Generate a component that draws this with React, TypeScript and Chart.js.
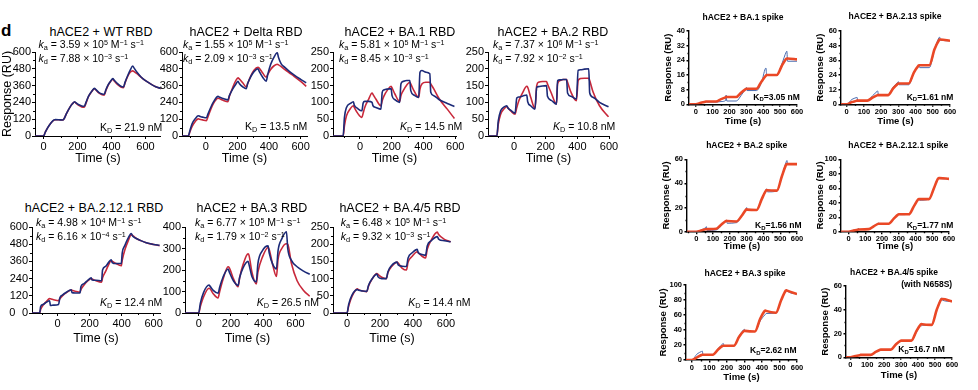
import React, { useEffect, useRef } from 'react';
import { Chart, registerables } from 'chart.js';

Chart.register(...registerables);

// ---------------- DATA (RBD panels) ----------------
const wtTime = [-50, 0, 10, 25, 45, 62, 70, 90, 112, 122, 135, 155, 170, 183, 190, 205, 225, 240, 250, 265, 285, 300, 307, 325, 345, 357, 367, 380, 395, 408, 415, 435, 455, 470, 480, 495, 510, 525, 533, 550, 575, 600, 630, 660, 690];
const wtBlue = [0, 0, 25, 60, 95, 115, 117, 116, 114, 125, 160, 205, 230, 245, 238, 225, 215, 213, 240, 285, 322, 340, 333, 312, 300, 298, 330, 365, 392, 410, 400, 375, 355, 350, 385, 430, 470, 500, 485, 455, 420, 395, 372, 352, 340];
const wtRed = [0, 0, 25, 60, 95, 113, 116, 116, 114, 125, 160, 205, 230, 243, 235, 220, 208, 205, 235, 282, 320, 338, 330, 308, 295, 292, 325, 362, 390, 405, 395, 368, 350, 345, 380, 425, 455, 465, 460, 445, 418, 395, 372, 352, 338];

const deltaTime = [-150, -110, -100, -85, -65, -48, -40, -20, 4, 15, 30, 50, 78, 85, 110, 140, 150, 170, 190, 204, 212, 235, 256, 265, 285, 305, 330, 338, 360, 382, 392, 410, 430, 452, 460, 477, 500, 530, 560, 600, 635];
const deltaBlue = [0, 0, 40, 90, 125, 145, 142, 135, 130, 160, 200, 245, 283, 278, 268, 258, 290, 335, 370, 390, 375, 350, 338, 375, 425, 460, 480, 462, 420, 392, 440, 510, 560, 595, 560, 515, 490, 460, 435, 405, 380];
const deltaRed = [0, 0, 30, 70, 105, 122, 120, 115, 110, 140, 185, 235, 270, 268, 255, 245, 285, 345, 395, 415, 408, 378, 350, 375, 430, 470, 490, 485, 450, 420, 440, 475, 500, 512, 508, 495, 475, 450, 425, 390, 355];

const ba1Time = [-170, -106, -98, -85, -60, -42, -36, -15, 12, 20, 30, 55, 76, 82, 100, 132, 140, 150, 175, 196, 202, 220, 250, 258, 270, 295, 314, 320, 340, 370, 378, 390, 415, 440, 446, 465, 500, 550, 595];
const ba1Blue = [0, 0, 55, 85, 97, 102, 92, 82, 75, 98, 103, 103, 100, 90, 85, 80, 130, 137, 140, 141, 120, 108, 100, 155, 162, 165, 165, 135, 122, 115, 190, 195, 190, 185, 130, 120, 108, 97, 88];
const ba1Red = [0, 0, 30, 60, 82, 90, 85, 68, 55, 68, 85, 110, 128, 124, 110, 90, 105, 118, 138, 148, 143, 125, 103, 120, 133, 152, 160, 155, 135, 115, 140, 155, 160, 160, 155, 140, 110, 80, 52];

const ba2Time = [-165, -109, -100, -85, -65, -46, -40, -20, 6, 17, 30, 55, 80, 86, 105, 132, 143, 155, 180, 205, 211, 235, 268, 275, 290, 310, 332, 338, 360, 394, 405, 420, 445, 472, 478, 500, 540, 597];
const ba2Blue = [0, 0, 45, 75, 86, 90, 84, 76, 68, 113, 116, 119, 122, 102, 90, 80, 145, 147, 149, 150, 118, 106, 95, 165, 167, 168, 168, 128, 118, 110, 195, 197, 199, 200, 128, 115, 100, 87];
const ba2Red = [0, 0, 35, 65, 80, 88, 84, 74, 65, 85, 105, 130, 148, 145, 115, 82, 150, 160, 162, 162, 155, 128, 95, 155, 165, 168, 168, 160, 130, 105, 165, 171, 172, 172, 165, 130, 90, 57];

const ba2121Time = [-160, -112, -106, -90, -70, -50, -45, -25, 6, 14, 30, 55, 85, 90, 110, 140, 146, 165, 190, 210, 216, 240, 275, 281, 300, 320, 335, 341, 365, 398, 404, 420, 440, 460, 470, 492, 520, 554, 600, 637];
const ba2121Blue = [0, 0, 45, 60, 75, 85, 52, 55, 60, 105, 125, 145, 162, 142, 140, 140, 185, 205, 230, 245, 230, 228, 225, 300, 325, 355, 372, 352, 345, 345, 420, 470, 520, 555, 535, 520, 505, 490, 478, 472];
const ba2121Red = [0, 0, 25, 55, 80, 100, 99, 92, 85, 100, 120, 142, 160, 158, 152, 145, 165, 195, 225, 240, 237, 225, 215, 245, 290, 340, 365, 362, 345, 330, 370, 440, 500, 545, 540, 520, 505, 490, 478, 470];

const ba3Time = [-85, 0, 10, 30, 64, 70, 90, 120, 130, 150, 182, 190, 215, 244, 254, 275, 306, 312, 330, 357, 367, 395, 430, 437, 460, 482, 492, 515, 544, 552, 575, 610, 650, 688];
const ba3Blue = [0, 0, 45, 95, 130, 125, 105, 92, 120, 165, 205, 190, 150, 128, 165, 210, 240, 225, 170, 145, 230, 290, 312, 280, 225, 205, 290, 345, 378, 300, 245, 215, 195, 180];
const ba3Red = [0, 0, 30, 75, 115, 113, 90, 70, 100, 155, 215, 210, 160, 122, 165, 225, 275, 268, 190, 135, 190, 260, 305, 295, 220, 170, 250, 300, 322, 320, 230, 150, 105, 78];

const ba45Time = [-85, 0, 10, 30, 63, 70, 95, 120, 130, 150, 181, 188, 210, 238, 248, 270, 303, 310, 335, 360, 370, 395, 425, 432, 455, 476, 486, 510, 547, 555, 590, 628];
const ba45Blue = [0, 0, 25, 52, 68, 66, 64, 63, 80, 98, 113, 105, 100, 100, 120, 138, 148, 140, 136, 135, 160, 175, 185, 175, 170, 168, 195, 210, 222, 215, 210, 207];
const ba45Red = [0, 0, 20, 48, 70, 68, 64, 62, 78, 97, 115, 112, 104, 100, 118, 135, 148, 145, 130, 125, 148, 165, 178, 175, 165, 160, 185, 212, 235, 228, 214, 207];

// ---------------- DATA (spike panels) ----------------
const sBa1Time = [-40, 0, 30, 56, 60, 64, 120, 150, 176, 180, 184, 240, 270, 296, 300, 304, 360, 390, 416, 420, 424, 480, 510, 536, 540, 544, 600];
const sBa1Blue = [0, 0, 0.8, 1.4, 1.5, 1.2, 1.2, 1.5, 2, 5, 1.8, 1.8, 5, 8.6, 9.2, 7.5, 7.5, 12, 19.8, 16, 15.8, 15.8, 22, 28.5, 29, 23.5, 23.5];
const sBa1Red = [0, 0, 0.8, 1.4, 1.5, 1.5, 1.5, 2.8, 3.8, 4, 4, 4, 6.5, 8.3, 8.5, 8.5, 8.5, 12.5, 15.7, 16, 16, 16, 21, 24.8, 25, 25, 24.5];

const sBa213Time = [-33, 0, 30, 56, 60, 64, 120, 150, 176, 180, 184, 240, 270, 296, 300, 304, 360, 390, 416, 420, 424, 480, 510, 536, 540, 544, 600];
const sBa213Blue = [0, 0, 4, 5.5, 5.8, 3, 3, 7, 10.5, 11, 8, 8, 14, 18, 18.5, 16, 16, 26, 31.5, 32, 30, 30, 45, 54.5, 55, 52.5, 52];
const sBa213Red = [0, 0, 1.8, 2.8, 3, 3, 3, 5.5, 7.3, 7.5, 7.5, 7.5, 13, 16.6, 17, 17, 17, 26, 31.5, 32, 32, 32, 45, 52.5, 53, 53, 52];

const sBa2Time = [-55, 0, 30, 56, 60, 64, 120, 150, 176, 180, 184, 240, 270, 296, 300, 304, 360, 390, 416, 420, 424, 480, 510, 536, 540, 544, 600];
const sBa2Blue = [0, 0, 1.5, 3.5, 4.2, 1, 1.5, 5, 9, 9.5, 7, 7.5, 13, 19, 20, 18, 18, 27, 35, 35.5, 33, 33.5, 46, 58, 59, 56, 56];
const sBa2Red = [0, 0, 1, 2, 2, 2.1, 2.5, 6, 8.8, 9, 8.8, 8.5, 13, 18.2, 18.5, 18.3, 18, 27, 34.2, 34.5, 34.3, 34, 46, 55.7, 56, 56, 56];

const sBa2121Time = [-45, 0, 30, 56, 60, 64, 120, 150, 176, 180, 184, 240, 270, 296, 300, 304, 360, 390, 416, 420, 424, 480, 510, 536, 540, 544, 600];
const sBa2121Blue = [0, 0, 2, 3.5, 4.5, 3, 3.5, 7.5, 11.5, 12, 10.5, 11, 18, 23.5, 24.5, 23.5, 24, 35, 44.5, 46, 43.5, 45, 60, 73.5, 74.5, 73.5, 73];
const sBa2121Red = [0, 0, 1.5, 2.8, 3, 3, 3.5, 7.5, 10.8, 11, 11, 11, 18, 23.7, 24, 24, 24, 35, 44.6, 45, 45, 45, 60, 73.7, 74, 74, 73];

const sBa3Time = [-33, 0, 30, 56, 60, 64, 120, 150, 176, 180, 184, 240, 270, 296, 300, 304, 360, 390, 416, 420, 424, 480, 510, 536, 540, 544, 600];
const sBa3Blue = [0, 0, 8, 11.5, 12, 7, 7, 15, 21.5, 22, 19, 19, 32, 40.5, 41, 38, 38, 52, 60, 61, 62, 62.5, 80, 93, 94, 92, 88];
const sBa3Red = [0, 0, 3.5, 6.7, 7, 7, 7, 14, 18.7, 19, 19, 19, 31, 38.5, 39, 38.8, 38, 55, 65.5, 66, 65.5, 63, 80, 92.5, 93, 92.5, 88];

const sBa45Time = [-25, 0, 30, 56, 60, 64, 120, 150, 176, 180, 184, 240, 270, 296, 300, 304, 360, 390, 416, 420, 424, 480, 510, 536, 540, 544, 600];
const sBa45Blue = [1.2, 0, 1, 1.8, 2, 2, 2, 4.5, 6.3, 6.5, 6.5, 6.5, 11, 13.8, 14, 14, 14, 21, 27, 26.5, 27, 27, 40, 49.5, 50, 48, 47];
const sBa45Red = [0, 0, 1, 1.8, 2, 2, 2, 4.5, 6.3, 6.5, 6.5, 6.5, 11, 13.8, 14, 14, 14, 22, 27.7, 28, 27.8, 27.3, 40, 48.7, 49, 49, 47];

// ---------------- TICKS ----------------
const rbdXTicks = [0, 200, 400, 600];
const spikeXTicks = [0, 100, 200, 300, 400, 500, 600];
const yTicks600 = [0, 120, 240, 360, 480, 600];
const yTicks250 = [0, 50, 100, 150, 200, 250];
const yTicks400 = [0, 100, 200, 300, 400];
const yTicks40 = [0, 8, 16, 24, 32, 40];
const yTicks60by12 = [0, 12, 24, 36, 48, 60];
const yTicks60by20 = [0, 20, 40, 60];
const yTicks100 = [0, 20, 40, 60, 80, 100];

// ---------------- TEXT ----------------
const rbdTitles = ['hACE2 + WT RBD', 'hACE2 + Delta RBD', 'hACE2 + BA.1 RBD', 'hACE2 + BA.2 RBD', 'hACE2 + BA.2.12.1 RBD', 'hACE2 + BA.3 RBD', 'hACE2 + BA.4/5 RBD'];
const kaMant = ['3.59', '1.55', '5.81', '7.37', '4.98', '6.77', '6.48'];
const kaExp = ['5', '5', '5', '6', '4', '5', '5'];
const kdMant = ['7.88', '2.09', '8.45', '7.92', '6.16', '1.79', '9.32'];
const kdExp = ['−3', '−3', '−3', '−2', '−4', '−2', '−3'];
const rbdKD = ['21.9', '13.5', '14.5', '10.8', '12.4', '26.5', '14.4'];
const rbdKItalic = [false, false, true, true, true, true, true];
const spikeTitles = ['hACE2 + BA.1 spike', 'hACE2 + BA.2.13 spike', 'hACE2 + BA.2 spike', 'hACE2 + BA.2.12.1 spike', 'hACE2 + BA.3 spike', 'hACE2 + BA.4/5 spike'];
const spikeKD = ['3.05', '1.61', '1.56', '1.77', '2.62', '16.7'];

// ---------------- LAYOUT ----------------
const rbdTitlePos = [[101, 31.5], [246, 31.5], [400, 31.5], [553, 31.5], [94, 208.3], [252, 208.3], [400, 208.3]];
const rbdKaPos = [[38.5, 43.5, 58], [183, 43.5, 58], [339, 43.5, 58], [493, 43.5, 58], [36, 221.7, 235.5], [195, 221.7, 235.5], [340.7, 221.7, 235.5]];
const rbdKdPos = [[100, 126.5], [245, 126], [400, 126], [553, 126], [100, 301.7], [256.7, 301.7], [408.3, 301.7]];
const spikeTitlePos = [[743, 17], [895, 16], [746.7, 145], [898.3, 144.5], [745, 273.3], [894, 271.7]];
const spikeKdPos = [[753.3, 96.7], [906.7, 96.7], [755, 225], [906.7, 225], [750, 350], [898.3, 349.3]];

const FONT = '"Liberation Sans", Arial, Helvetica, sans-serif';

type Kind = 'rbd' | 'spike';
type Panel = {
  kind: Kind;
  t: number[]; blue: number[]; red: number[];
  xMin: number; xMax: number; xTicks: number[];
  yMax: number; yTicks: number[];
  area: [number, number, number, number];
  yTitleX?: number;
  xTitleY: number;
};

const STYLE: Record<Kind, any> = {
  rbd: { weight: 'normal', tick: 11, title: 12.5, axisW: 1, tickLen: 3, minorLen: 2, xPad: 1, yPad: 1, blue: '#1c2a78', red: '#c8283a', blueW: 1.6, redW: 1.6 },
  spike: { weight: 'bold', tick: 7.5, title: 9.5, axisW: 1.4, tickLen: 2.5, minorLen: 1.5, xPad: 0.5, yPad: 1.5, blue: '#4a6cb0', red: '#ea4826', blueW: 1, redW: 2.6 },
};

const PANELS: Panel[] = [
  { kind: 'rbd', t: wtTime, blue: wtBlue, red: wtRed, xMin: -50, xMax: 690, xTicks: rbdXTicks, yMax: 600, yTicks: yTicks600, area: [35, 52, 160.8, 136], yTitleX: 7, xTitleY: 158 },
  { kind: 'rbd', t: deltaTime, blue: deltaBlue, red: deltaRed, xMin: -150, xMax: 640, xTicks: rbdXTicks, yMax: 600, yTicks: yTicks600, area: [182, 52, 307, 136], xTitleY: 158 },
  { kind: 'rbd', t: ba1Time, blue: ba1Blue, red: ba1Red, xMin: -170, xMax: 605, xTicks: rbdXTicks, yMax: 250, yTicks: yTicks250, area: [333, 52, 456, 136], xTitleY: 158 },
  { kind: 'rbd', t: ba2Time, blue: ba2Blue, red: ba2Red, xMin: -165, xMax: 600, xTicks: rbdXTicks, yMax: 250, yTicks: yTicks250, area: [488, 52, 609, 136], xTitleY: 158 },
  { kind: 'rbd', t: ba2121Time, blue: ba2121Blue, red: ba2121Red, xMin: -160, xMax: 640, xTicks: rbdXTicks, yMax: 600, yTicks: yTicks600, area: [32, 227, 160, 313], xTitleY: 338 },
  { kind: 'rbd', t: ba3Time, blue: ba3Blue, red: ba3Red, xMin: -85, xMax: 690, xTicks: rbdXTicks, yMax: 400, yTicks: yTicks400, area: [185, 227, 310, 313], xTitleY: 338 },
  { kind: 'rbd', t: ba45Time, blue: ba45Blue, red: ba45Red, xMin: -85, xMax: 630, xTicks: rbdXTicks, yMax: 250, yTicks: yTicks250, area: [333, 227, 451, 313], xTitleY: 338 },
  { kind: 'spike', t: sBa1Time, blue: sBa1Blue, red: sBa1Red, xMin: -40, xMax: 600, xTicks: spikeXTicks, yMax: 40, yTicks: yTicks40, area: [689, 31, 797, 104.3], yTitleX: 668.3, xTitleY: 121.7 },
  { kind: 'spike', t: sBa213Time, blue: sBa213Blue, red: sBa213Red, xMin: -33, xMax: 600, xTicks: spikeXTicks, yMax: 60, yTicks: yTicks60by12, area: [841, 31, 950, 104.3], yTitleX: 821, xTitleY: 121.7 },
  { kind: 'spike', t: sBa2Time, blue: sBa2Blue, red: sBa2Red, xMin: -55, xMax: 600, xTicks: spikeXTicks, yMax: 60, yTicks: yTicks60by20, area: [687, 159.3, 797, 231.7], yTitleX: 666.7, xTitleY: 246.7 },
  { kind: 'spike', t: sBa2121Time, blue: sBa2121Blue, red: sBa2121Red, xMin: -45, xMax: 600, xTicks: spikeXTicks, yMax: 100, yTicks: yTicks100, area: [841, 159.3, 949, 231.7], yTitleX: 821, xTitleY: 246.7 },
  { kind: 'spike', t: sBa3Time, blue: sBa3Blue, red: sBa3Red, xMin: -33, xMax: 600, xTicks: spikeXTicks, yMax: 100, yTicks: yTicks100, area: [686, 285, 797, 360], yTitleX: 664, xTitleY: 377 },
  { kind: 'spike', t: sBa45Time, blue: sBa45Blue, red: sBa45Red, xMin: -25, xMax: 600, xTicks: spikeXTicks, yMax: 60, yTicks: yTicks60by20, area: [846, 286, 952, 357.3], yTitleX: 826, xTitleY: 375 },
];

function geom(p: Panel) {
  const st = STYLE[p.kind];
  const lh = st.title * 1.2;
  const [l, t, r, b] = p.area;
  const x = Math.round(p.yTitleX !== undefined ? p.yTitleX - lh / 2 : l - 36);
  const y = Math.round(t - 10);
  const w = Math.round(r + 16) - x;
  const h = Math.round(p.xTitleY + lh / 2) - y;
  return { x, y, w, h, yW: l - x, xH: y + h - b, padTop: t - y, padRight: x + w - r };
}

function minors(ticks: number[], min: number, max: number) {
  const out: number[] = [];
  const step = ticks[1] - ticks[0];
  for (let i = 0; i < ticks.length; i++) {
    const m = ticks[i] - step / 2;
    if (m >= min && m <= max) out.push(m);
  }
  const last = ticks[ticks.length - 1] + step / 2;
  if (last <= max) out.push(last);
  return out;
}

const minorTickPlugin = {
  id: 'minorTicks',
  afterDraw(chart: any, _a: any, opts: any) {
    const { ctx } = chart;
    const x = chart.scales.x;
    const y = chart.scales.y;
    ctx.save();
    ctx.strokeStyle = '#000';
    ctx.lineWidth = opts.width;
    ctx.beginPath();
    for (const v of opts.xs) {
      const px = Math.round(x.getPixelForValue(v)) + 0.5;
      ctx.moveTo(px, y.bottom);
      ctx.lineTo(px, y.bottom + opts.len);
    }
    for (const v of opts.ys) {
      const py = Math.round(y.getPixelForValue(v)) + 0.5;
      ctx.moveTo(x.left, py);
      ctx.lineTo(x.left - opts.len, py);
    }
    ctx.stroke();
    ctx.restore();
  },
};

function buildConfig(p: Panel): any {
  const st = STYLE[p.kind];
  const g = geom(p);
  const tickFont = { family: FONT, size: st.tick, weight: st.weight };
  const titleFont = { family: FONT, size: st.title, weight: st.weight, lineHeight: 1.2 };
  const blue = {
    data: p.t.map((x, i) => ({ x, y: p.blue[i] })),
    borderColor: st.blue, borderWidth: st.blueW, pointRadius: 0, fill: false,
    cubicInterpolationMode: 'monotone',
  };
  const red = {
    data: p.t.map((x, i) => ({ x, y: p.red[i] })),
    borderColor: st.red, borderWidth: st.redW, pointRadius: 0, fill: false,
    cubicInterpolationMode: 'monotone',
  };
  const grid = { drawOnChartArea: false, drawTicks: true, tickLength: st.tickLen, color: '#000', lineWidth: st.axisW };
  const border = { display: true, color: '#000', width: st.axisW };
  return {
    type: 'line',
    data: { datasets: p.kind === 'rbd' ? [blue, red] : [red, blue] },
    plugins: [minorTickPlugin],
    options: {
      animation: false,
      responsive: false,
      maintainAspectRatio: false,
      events: [],
      layout: { padding: { left: 0, top: g.padTop, right: g.padRight, bottom: 0 } },
      plugins: {
        legend: { display: false },
        tooltip: { enabled: false },
        minorTicks: {
          xs: minors(p.xTicks, p.xMin, p.xMax),
          ys: minors(p.yTicks, 0, p.yMax),
          len: st.minorLen,
          width: st.axisW,
        },
      },
      scales: {
        x: {
          type: 'linear', min: p.xMin, max: p.xMax,
          afterBuildTicks: (s: any) => { s.ticks = p.xTicks.map((v) => ({ value: v })); },
          afterFit: (s: any) => { s.height = g.xH; },
          ticks: { font: tickFont, color: '#000', padding: st.xPad, maxRotation: 0, autoSkip: false },
          grid, border,
          title: { display: true, text: 'Time (s)', font: titleFont, color: '#000', padding: 0 },
        },
        y: {
          type: 'linear', min: 0, max: p.yMax,
          afterBuildTicks: (s: any) => { s.ticks = p.yTicks.map((v) => ({ value: v })); },
          afterFit: (s: any) => { s.width = g.yW; },
          ticks: { font: tickFont, color: '#000', padding: st.yPad, autoSkip: false },
          grid, border,
          title: { display: p.yTitleX !== undefined, text: 'Response (RU)', font: titleFont, color: '#000', padding: 0 },
        },
      },
    },
  };
}

const Sub = ({ children }: any) => (
  <span style={{ fontSize: '0.7em', position: 'relative', top: '0.3em', lineHeight: 0, fontStyle: 'normal' }}>{children}</span>
);
const Sup = ({ children }: any) => (
  <span style={{ fontSize: '0.68em', position: 'relative', top: '-0.42em', lineHeight: 0 }}>{children}</span>
);

const Txt = ({ x, y, align, size, bold, children }: any) => {
  const tx = align === 'center' ? '-50%' : align === 'right' ? '-100%' : '0';
  return (
    <div style={{
      position: 'absolute', left: x, top: y, transform: `translate(${tx}, -50%)`,
      fontSize: size, lineHeight: 1, fontWeight: bold ? 'bold' : 'normal', whiteSpace: 'nowrap',
      fontFamily: FONT, color: '#000',
    }}>{children}</div>
  );
};

export default function App() {
  const refs = useRef<(HTMLCanvasElement | null)[]>([]);
  useEffect(() => {
    const charts = PANELS.map((p, i) => new Chart(refs.current[i] as HTMLCanvasElement, buildConfig(p)));
    return () => charts.forEach((c) => c.destroy());
  }, []);

  return (
    <div style={{ position: 'fixed', left: 0, top: 0, width: 978, height: 390, background: '#fff', overflow: 'hidden' }}>
      {PANELS.map((p, i) => {
        const g = geom(p);
        return (
          <canvas
            key={i}
            ref={(el) => { refs.current[i] = el; }}
            width={g.w}
            height={g.h}
            style={{ position: 'absolute', left: g.x, top: g.y, width: g.w, height: g.h }}
          />
        );
      })}

      <div style={{ position: 'absolute', left: 1, top: 22, fontSize: 17, lineHeight: '17px', fontWeight: 'bold', fontFamily: FONT }}>d</div>
      <Txt x={9.3} y={311.7} size={11}>0</Txt>

      {rbdTitles.map((tt, i) => (
        <Txt key={'t' + i} x={rbdTitlePos[i][0]} y={rbdTitlePos[i][1]} align="center" size={12.5}>{tt}</Txt>
      ))}
      {rbdTitles.map((_, i) => (
        <React.Fragment key={'k' + i}>
          <Txt x={rbdKaPos[i][0]} y={rbdKaPos[i][1]} size={10.5}>
            <i>k</i><Sub>a</Sub> = {kaMant[i]} × 10<Sup>{kaExp[i]}</Sup> M<Sup>−1</Sup> s<Sup>−1</Sup>
          </Txt>
          <Txt x={rbdKaPos[i][0]} y={rbdKaPos[i][2]} size={10.5}>
            <i>k</i><Sub>d</Sub> = {kdMant[i]} × 10<Sup>{kdExp[i]}</Sup> s<Sup>−1</Sup>
          </Txt>
          <Txt x={rbdKdPos[i][0]} y={rbdKdPos[i][1]} size={10.5}>
            {rbdKItalic[i] ? <i>K</i> : 'K'}<Sub>D</Sub> = {rbdKD[i]} nM
          </Txt>
        </React.Fragment>
      ))}

      {spikeTitles.map((tt, i) => (
        <Txt key={'s' + i} x={spikeTitlePos[i][0]} y={spikeTitlePos[i][1]} align="center" size={8.5} bold>{tt}</Txt>
      ))}
      <Txt x={926.7} y={284} align="center" size={8.5} bold>(with N658S)</Txt>
      {spikeKD.map((v, i) => (
        <Txt key={'sk' + i} x={spikeKdPos[i][0]} y={spikeKdPos[i][1]} size={8.5} bold>
          K<Sub>D</Sub>={v} nM
        </Txt>
      ))}
    </div>
  );
}
